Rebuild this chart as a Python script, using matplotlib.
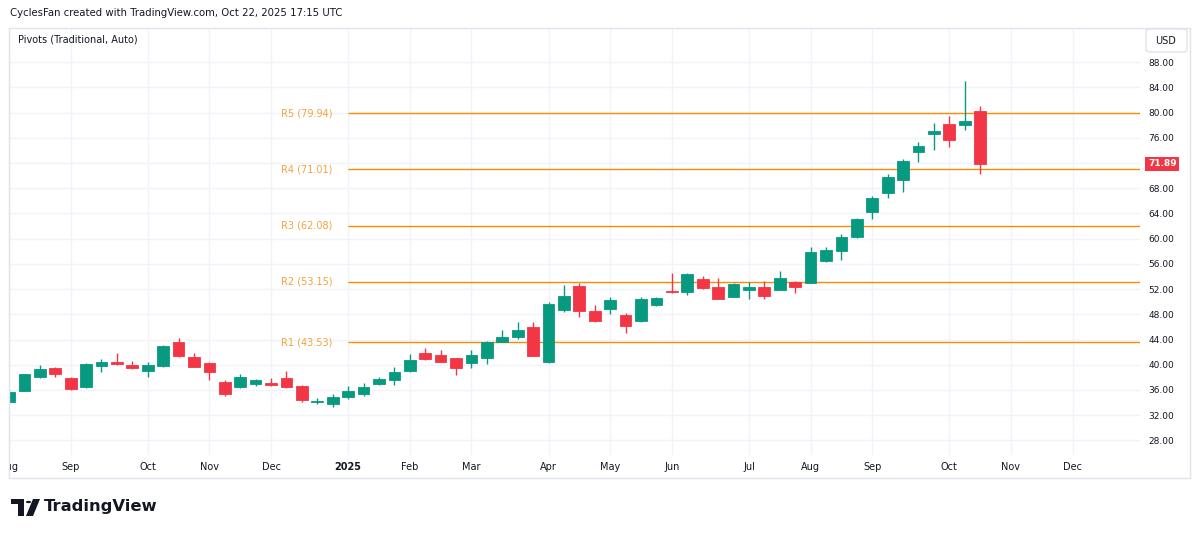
import matplotlib
matplotlib.use("Agg")
import matplotlib.pyplot as plt
from matplotlib.patches import Rectangle, FancyBboxPatch, Polygon, Circle
from matplotlib.transforms import Bbox, TransformedBbox, blended_transform_factory
import numpy as np
import pandas as pd

# weekly bars, Aug 2024 .. Oct 2025
weeks = pd.date_range("2024-08-05", periods=64, freq="W-MON")
opens = [34.1, 35.9, 38.0, 39.4, 37.9, 36.4, 39.8, 40.5, 40.0, 39.05,
         39.8, 43.6, 41.2, 40.2, 37.3, 36.4, 36.9, 37.1, 37.9, 36.7,
         34.1, 33.7, 34.8, 35.4, 36.9, 37.5, 39.0, 41.8, 41.5, 41.0,
         40.2, 41.1, 43.65, 44.45, 46.0, 40.5, 48.7, 52.55, 48.5, 48.8,
         47.9, 46.9, 49.4, 51.7, 51.6, 53.6, 52.4, 50.8, 51.85, 52.4,
         51.85, 53.2, 53.0, 56.5, 58.1, 60.3, 64.3, 67.2, 69.3, 73.7,
         76.6, 78.2, 78.05, 80.2]
highs = [36.0, 38.6, 40.0, 39.7, 38.0, 40.2, 40.9, 41.8, 40.6, 40.4,
         43.2, 44.2, 41.9, 40.5, 37.6, 38.5, 37.8, 37.9, 39.0, 36.8,
         34.7, 35.3, 36.7, 37.1, 38.1, 39.6, 41.65, 42.6, 42.4, 41.05,
         42.3, 43.8, 45.5, 46.8, 46.7, 50.0, 52.65, 53.0, 49.5, 50.8,
         48.2, 50.8, 50.8, 54.6, 54.6, 54.1, 53.8, 53.0, 53.2, 53.3,
         54.8, 53.3, 58.7, 58.7, 60.75, 63.3, 66.8, 70.2, 72.6, 75.4,
         78.4, 79.5, 85.1, 81.1]
lows = [33.8, 35.8, 37.9, 38.0, 36.0, 36.3, 38.9, 40.0, 39.3, 38.1,
        39.7, 41.3, 39.6, 37.6, 35.1, 36.3, 36.7, 36.7, 36.3, 34.1,
        33.8, 33.3, 34.5, 35.0, 36.85, 36.8, 38.9, 40.8, 40.45, 38.4,
        39.5, 40.1, 43.6, 44.1, 41.35, 40.2, 48.4, 47.6, 46.7, 48.0,
        45.0, 46.7, 49.3, 51.4, 51.1, 52.0, 50.4, 50.7, 50.4, 50.4,
        51.8, 51.4, 52.9, 56.3, 56.6, 60.15, 63.2, 66.5, 67.4, 72.1,
        74.1, 74.6, 77.25, 70.3]
closes = [35.7, 38.5, 39.3, 38.5, 36.1, 40.1, 40.4, 40.1, 39.4, 39.9,
          43.0, 41.4, 39.7, 38.8, 35.3, 38.05, 37.5, 36.75, 36.4, 34.4,
          34.2, 34.8, 35.8, 36.5, 37.8, 38.8, 40.7, 40.85, 40.5, 39.5,
          41.5, 43.65, 44.4, 45.5, 41.4, 49.6, 50.9, 48.6, 46.9, 50.3,
          46.2, 50.4, 50.6, 51.5, 54.4, 52.1, 50.5, 52.8, 52.4, 50.9,
          53.8, 52.3, 57.9, 58.2, 60.2, 63.1, 66.4, 69.85, 72.4, 74.7,
          77.1, 75.7, 78.7, 71.89]

# yearly pivots (Traditional)
pivot_names = ["R1", "R2", "R3", "R4", "R5"]
pivot_levels = [43.53, 53.15, 62.08, 71.01, 79.94]
pivot_start = "2025-01-06"

price_ticks = [28, 32, 36, 40, 44, 48, 52, 56, 60, 64, 68, 72, 76, 80, 84, 88]

UP = "#089981"
DOWN = "#F23645"
ORANGE = "#FB8C00"
LABEL_ORANGE = "#F7A13A"
TXT = "#131722"
GRID = "#F0F3FA"
W, H = 1200, 535

def fx(x):
    return x / W

def fy(y):
    return 1 - y / H

fig = plt.figure(figsize=(12, 5.35), dpi=100)
fig.patch.set_facecolor("white")
plt.rcParams["font.family"] = ["DejaVu Sans"]

ax_l, ax_r, ax_t, ax_b = 9, 1140, 28, 455
ax = fig.add_axes([fx(ax_l), fy(ax_b), fx(ax_r - ax_l), (ax_b - ax_t) / H])

n = len(weeks)
idx = np.arange(n)
o = np.array(opens)
c = np.array(closes)
up = c >= o
colors = np.where(up, UP, DOWN)

ax.vlines(idx, lows, highs, colors=colors, linewidth=1, zorder=3)
ax.bar(idx, np.abs(c - o), bottom=np.minimum(o, c), width=0.76,
       color=colors, edgecolor=colors, linewidth=0.6, zorder=4)

xmin, xmax = 0.026, 73.37
ax.set_xlim(xmin, xmax)
ax.set_ylim(25.67, 93.44)

# pivot lines from first bar of 2025
p0 = list(weeks).index(pd.Timestamp(pivot_start))
for name, lvl in zip(pivot_names, pivot_levels):
    ax.hlines(lvl, p0, xmax, color=ORANGE, linewidth=1, zorder=2)
    ax.text(p0 - 1.0, lvl, f"{name} ({lvl:.2f})", color=LABEL_ORANGE,
            fontsize=7, ha="right", va="center", zorder=5)

# time scale: first bar of each month, incl. future bars
all_weeks = pd.date_range(weeks[0], periods=int(xmax) + 1, freq="W-MON")
tick_pos, tick_lab = [], []
prev = None
for i, d in enumerate(all_weeks):
    if prev is None or d.month != prev.month:
        tick_pos.append(i)
        tick_lab.append(str(d.year) if d.month == 1 else d.strftime("%b"))
    prev = d
ax.set_xticks(tick_pos)
ax.set_xticklabels(tick_lab)
ax.tick_params(axis="x", length=0, pad=5, labelsize=7, labelcolor=TXT)
clip = TransformedBbox(Bbox([[fx(ax_l), 0], [fx(ax_r), 1]]), fig.transFigure)
for lbl in ax.get_xticklabels():
    lbl.set_clip_box(clip)
    lbl.set_clip_on(True)
    if lbl.get_text().isdigit():
        lbl.set_fontweight("bold")

# price scale; the label under the last-price tag is hidden
ax.yaxis.tick_right()
ax.set_yticks(price_ticks)
ax.set_yticklabels(["" if abs(t - closes[-1]) < 2.5 else f"{t:.2f}" for t in price_ticks])
ax.tick_params(axis="y", length=0, pad=6, labelsize=6.5, labelcolor=TXT)

ax.grid(True, color=GRID, linewidth=1, zorder=0)
ax.set_axisbelow(True)
for s in ax.spines.values():
    s.set_visible(False)

# last price tag
tr = blended_transform_factory(ax.transAxes, ax.transData)
ax.text((1148 - ax_l) / (ax_r - ax_l), closes[-1], f"{closes[-1]:.2f}",
        transform=tr, color="white", fontsize=6.5, fontweight="bold",
        ha="left", va="center", clip_on=False, zorder=6,
        bbox=dict(boxstyle="square,pad=0.3", fc=DOWN, ec="none"))

# frame around chart + price scale
fig.patches.append(Rectangle((fx(9), fy(478)), fx(1190 - 9), (478 - 28) / H,
                             transform=fig.transFigure, fill=False,
                             ec="#E0E3EB", lw=1))

# USD box
fig.patches.append(FancyBboxPatch((fx(1146), fy(52)), fx(41), 23 / H,
                                  boxstyle="round,pad=0,rounding_size=0.004",
                                  transform=fig.transFigure, fc="white",
                                  ec="#E0E3EB", lw=1))
fig.text(fx(1166), fy(41), "USD", fontsize=7, color=TXT, ha="center", va="center")

fig.text(fx(10), fy(13), "CyclesFan created with TradingView.com, Oct 22, 2025 17:15 UTC",
         fontsize=7.3, color=TXT, ha="left", va="center")
fig.text(fx(18), fy(39), "Pivots (Traditional, Auto)", fontsize=7, color=TXT,
         ha="left", va="center")

# TradingView logo
logo = [
    Polygon([(fx(11), fy(499)), (fx(24), fy(499)), (fx(24), fy(516)),
             (fx(18), fy(516)), (fx(18), fy(504)), (fx(11), fy(504))], closed=True),
    Circle((fx(28.5), fy(502)), 2.6 / W),
    Polygon([(fx(33), fy(499)), (fx(40), fy(499)), (fx(33), fy(516)),
             (fx(26), fy(516))], closed=True),
]
for p in logo:
    p.set_transform(fig.transFigure)
    p.set_facecolor("#131722")
    p.set_edgecolor("none")
    fig.patches.append(p)
fig.text(fx(44), fy(507), "TradingView", fontsize=11.8, fontweight="bold",
         color="#131722", ha="left", va="center")

fig.savefig("out.png", dpi=100)
